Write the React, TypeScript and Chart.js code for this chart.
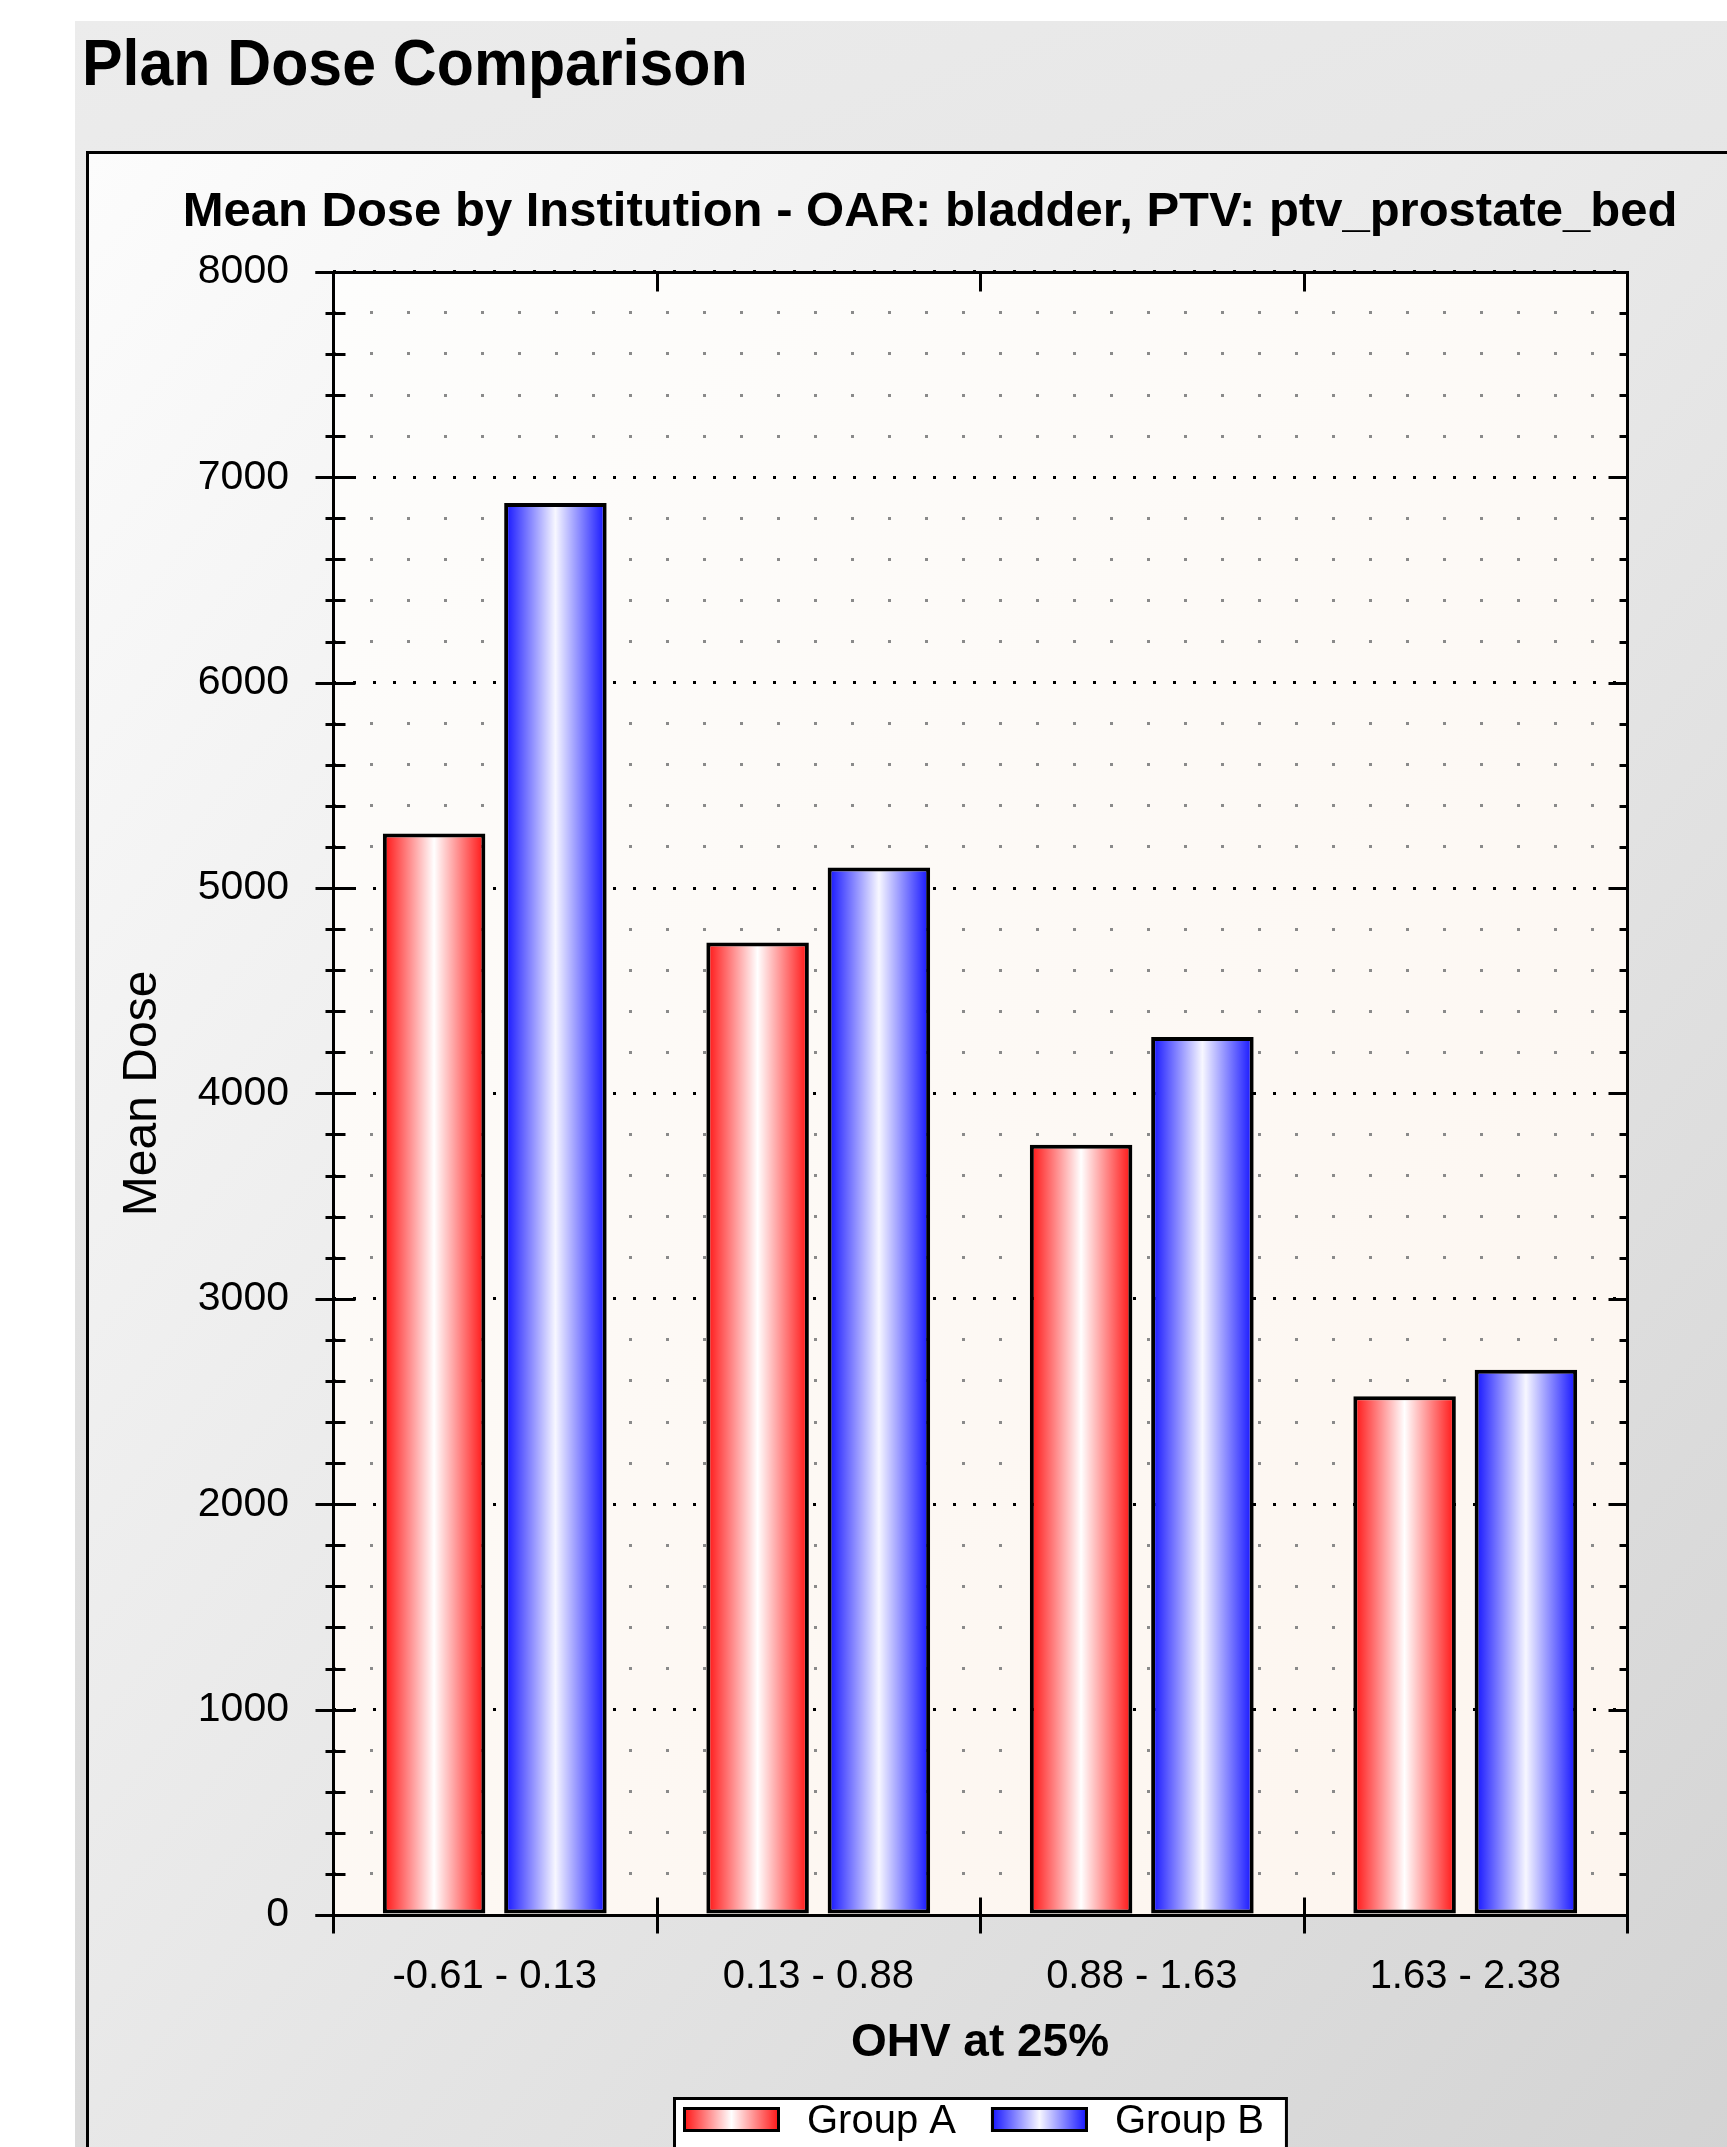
import React, { useEffect, useRef } from 'react';
import { Chart, registerables } from 'chart.js';

Chart.register(...registerables);

// ---- data ----
const categories = ['-0.61 - 0.13', '0.13 - 0.88', '0.88 - 1.63', '1.63 - 2.38'];
const seriesNames = ['Group A', 'Group B'];
const groupA = [5265, 4735, 3750, 2525];
const groupB = [6875, 5100, 4275, 2655];
const yMin = 0;
const yMax = 8000;
const yMinorStep = 200;
const yMajorStep = 1000;

const chartTitle = 'Mean Dose by Institution - OAR: bladder, PTV: ptv_prostate_bed';
const xTitle = 'OHV at 25%';
const yTitle = 'Mean Dose';
const pageHeading = 'Plan Dose Comparison';

// ---- styling ----
const FONT = '"Liberation Sans", Arial, Helvetica, sans-serif';
const CAT_PCT = 0.75;
const BAR_PCT = 0.845;
const seriesEdge = ['#ff1010', '#1010ff'];
const seriesMid = ['#ffffff', '#f7f7ff'];

const CANVAS_W = 1682;
const CANVAS_H = 2000;

function barGradient(c: any) {
  const ds = c.datasetIndex ?? 0;
  const edge = seriesEdge[ds];
  const chart = c.chart;
  const xs = chart.scales && chart.scales.x;
  if (c.type !== 'data' || !xs || !xs.width) return edge;
  const catW = xs.width / categories.length;
  const slot = (catW * CAT_PCT) / 2;
  const w = slot * BAR_PCT;
  const cx = xs.getPixelForValue(c.dataIndex) + (ds - 0.5) * slot;
  const g = chart.ctx.createLinearGradient(cx - w / 2, 0, cx + w / 2, 0);
  g.addColorStop(0, edge);
  g.addColorStop(0.5, seriesMid[ds]);
  g.addColorStop(1, edge);
  return g;
}

const isMajor = (v: number) => Math.abs(v % yMajorStep) < 1e-6;

// plot background, frame and tick marks on all four sides
const framePlugin = {
  id: 'plotFrame',
  beforeDraw(chart: any) {
    const { ctx, chartArea: a } = chart;
    const g = ctx.createLinearGradient(a.left, a.top, a.right, a.bottom);
    g.addColorStop(0, '#fdfdfc');
    g.addColorStop(1, '#fdf5ee');
    ctx.save();
    ctx.fillStyle = g;
    ctx.fillRect(a.left, a.top, a.right - a.left, a.bottom - a.top);
    ctx.restore();
  },
  afterDraw(chart: any) {
    const { ctx, chartArea: a, scales } = chart;
    const y = scales.y;
    const L = Math.round(a.left) + 0.5;
    const R = Math.round(a.right) + 0.5;
    const T = Math.round(a.top) + 0.5;
    const B = Math.round(a.bottom) + 0.5;
    ctx.save();
    ctx.strokeStyle = '#000';
    ctx.lineWidth = 3;
    ctx.lineCap = 'butt';
    const line = (x1: number, y1: number, x2: number, y2: number) => {
      ctx.beginPath();
      ctx.moveTo(x1, y1);
      ctx.lineTo(x2, y2);
      ctx.stroke();
    };
    line(L - 18, T, R + 1.5, T);
    line(L - 18, B, R + 1.5, B);
    line(L, T - 1.5, L, B + 18);
    line(R, T - 1.5, R, B + 18);
    y.ticks.forEach((t: any) => {
      const py = Math.round(y.getPixelForValue(t.value)) + 0.5;
      const major = isMajor(t.value);
      line(L - (major ? 18 : 8), py, L + (major ? 22 : 12), py);
      line(R - (major ? 19 : 8), py, R, py);
    });
    const n = categories.length;
    for (let i = 1; i < n; i++) {
      const px = Math.round(a.left + (i * (a.right - a.left)) / n) + 0.5;
      line(px, T, px, T + 19);
      line(px, B - 18, px, B + 18);
    }
    ctx.restore();
  },
};

// boxed legend under the x-axis title
const legendPlugin = {
  id: 'boxLegend',
  afterDraw(chart: any) {
    const { ctx, chartArea: a } = chart;
    ctx.save();
    ctx.font = `40px ${FONT}`;
    const widths = seriesNames.map((s) => ctx.measureText(s).width);
    const sw = 97, sh = 25, gapText = 27, gapItem = 35, padL = 10, padR = 24;
    const total = padL + sw + gapText + widths[0] + gapItem + sw + gapText + widths[1] + padR;
    const left = Math.round((a.left + a.right) / 2 - total / 2);
    const top = Math.round(a.bottom + 182);
    ctx.fillStyle = '#ffffff';
    ctx.fillRect(left, top, total, 60);
    ctx.strokeStyle = '#000';
    ctx.lineWidth = 3;
    ctx.strokeRect(left + 1.5, top + 1.5, total - 3, 60);
    let x = left + padL;
    seriesNames.forEach((name, i) => {
      const g = ctx.createLinearGradient(x, 0, x + sw, 0);
      g.addColorStop(0, seriesEdge[i]);
      g.addColorStop(0.5, seriesMid[i]);
      g.addColorStop(1, seriesEdge[i]);
      ctx.fillStyle = g;
      ctx.fillRect(x, top + 10, sw, sh);
      ctx.strokeRect(x + 1.5, top + 11.5, sw - 3, sh - 3);
      x += sw + gapText;
      ctx.fillStyle = '#000';
      ctx.textBaseline = 'middle';
      ctx.textAlign = 'left';
      ctx.fillText(name, x, top + 25);
      x += widths[i] + gapItem;
    });
    ctx.restore();
  },
};

function DoseChart() {
  const ref = useRef<HTMLCanvasElement | null>(null);
  useEffect(() => {
    if (!ref.current) return;
    Chart.defaults.font.family = FONT;
    Chart.defaults.color = '#000';
    const barStyle = {
      backgroundColor: barGradient as any,
      borderColor: '#000',
      borderWidth: 4,
      borderSkipped: false,
      categoryPercentage: CAT_PCT,
      barPercentage: BAR_PCT,
    };
    const chart = new Chart(ref.current, {
      type: 'bar',
      data: {
        labels: categories,
        datasets: [
          { label: seriesNames[0], data: groupA, ...barStyle },
          { label: seriesNames[1], data: groupB, ...barStyle },
        ],
      },
      options: {
        responsive: false,
        animation: false,
        devicePixelRatio: 1,
        layout: { padding: { left: 0, right: 0, top: 0, bottom: 79 } },
        plugins: {
          legend: { display: false },
          tooltip: { enabled: false },
          title: {
            display: true,
            text: chartTitle,
            color: '#000',
            font: { family: FONT, size: 49, weight: 'bold' },
            padding: { top: 29, bottom: 30 },
          },
        },
        scales: {
          x: {
            grid: { display: false },
            border: { display: false },
            ticks: {
              color: '#000',
              font: { family: FONT, size: 40 },
              padding: 30,
              maxRotation: 0,
              autoSkip: false,
            },
            title: {
              display: true,
              text: xTitle,
              color: '#000',
              font: { family: FONT, size: 46, weight: 'bold' },
              padding: { top: 0, bottom: 4 },
            },
            afterFit: (s: any) => {
              s.height = 160;
            },
          },
          y: {
            min: yMin,
            max: yMax,
            ticks: {
              stepSize: yMinorStep,
              autoSkip: false,
              maxTicksLimit: 100,
              padding: 44,
              color: '#000',
              font: { family: FONT, size: 41 },
              callback: (v: any) => (isMajor(Number(v)) ? String(v) : ''),
            },
            grid: {
              drawTicks: false,
              lineWidth: 3,
              color: (c: any) => (c.tick && isMajor(c.tick.value) ? '#000000' : '#8a8a8a'),
            },
            border: {
              display: false,
              dash: (c: any) => (c.tick && isMajor(c.tick.value) ? [3, 17] : [3, 34]),
            },
            title: {
              display: true,
              text: yTitle,
              color: '#000',
              font: { family: FONT, size: 48 },
              padding: { top: 25, bottom: 0 },
            },
            afterFit: (s: any) => {
              s.width = 244;
            },
          },
          y2: {
            position: 'right',
            min: yMin,
            max: yMax,
            grid: { display: false },
            border: { display: false },
            ticks: { display: false },
            afterFit: (s: any) => {
              s.width = 144;
            },
          },
        },
      } as any,
      plugins: [framePlugin, legendPlugin],
    });
    return () => chart.destroy();
  }, []);

  return (
    <canvas
      ref={ref}
      width={CANVAS_W}
      height={CANVAS_H}
      style={{ position: 'absolute', left: 0, top: 0, width: CANVAS_W, height: CANVAS_H }}
    />
  );
}

export default function App() {
  return (
    <div
      style={{
        position: 'absolute',
        left: 0,
        top: 0,
        width: 1727,
        height: 2147,
        overflow: 'hidden',
        background: '#ffffff',
      }}
    >
      <div
        style={{
          position: 'absolute',
          left: 75,
          top: 21,
          width: 1700,
          height: 2180,
          background: 'linear-gradient(160deg, #ececec 0%, #d4d4d4 100%)',
        }}
      />
      <div
        style={{
          position: 'absolute',
          left: 82,
          top: 31,
          font: `bold 64px ${FONT}`,
          lineHeight: '64px',
          color: '#000',
          whiteSpace: 'nowrap',
          transform: 'scaleX(0.95)',
          transformOrigin: 'left top',
        }}
      >
        {pageHeading}
      </div>
      <div
        style={{
          position: 'absolute',
          left: 86,
          top: 151,
          width: 1700,
          height: 2050,
          border: '3px solid #000',
          background: 'linear-gradient(to bottom right, #fcfcfc 0%, #d2d2d2 100%)',
        }}
      >
        <DoseChart />
      </div>
    </div>
  );
}
